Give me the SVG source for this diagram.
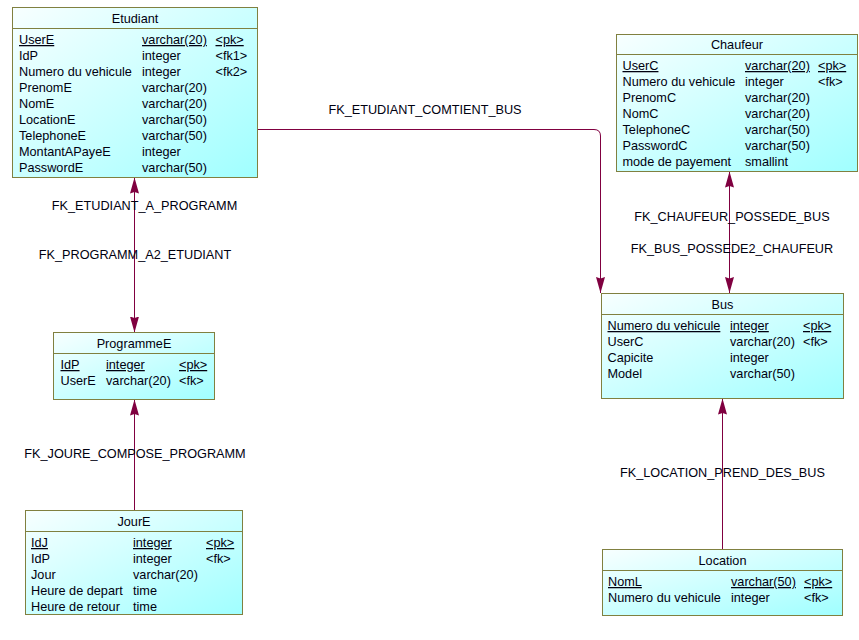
<svg xmlns="http://www.w3.org/2000/svg" width="859" height="640" viewBox="0 0 859 640">
<defs>
<linearGradient id="g" x1="0" y1="0" x2="1" y2="1">
<stop offset="0" stop-color="#f8ffff"/>
<stop offset="1" stop-color="#a0ffff"/>
</linearGradient>
<marker id="ah" viewBox="0 0 16 9" refX="16" refY="4.5" markerWidth="16" markerHeight="9" markerUnits="userSpaceOnUse" orient="auto-start-reverse">
<path d="M0,0 L16,4.5 L0,9 L1.5,4.5 Z" fill="#800040"/>
</marker>
<style>
.box{fill:url(#g);stroke:#808040;stroke-width:1}
.sep{stroke:#808040;stroke-width:1}
text{font-family:"Liberation Sans",Arial,sans-serif;font-size:12.7px;fill:#000010}
.t{text-anchor:middle}
.pk{text-decoration:underline}
.c{fill:none;stroke:#800040;stroke-width:1}
.lbl{text-anchor:middle}
</style>
</defs>
<rect width="859" height="640" fill="#ffffff"/>

<g id="connectors">
<path class="c" d="M134.5,177.5 V332.5" marker-start="url(#ah)" marker-end="url(#ah)"/>
<path class="c" d="M134.5,510 V399.5" marker-end="url(#ah)"/>
<path class="c" d="M257.5,129.5 H594 Q600.5,129.5 600.5,136 V293" marker-end="url(#ah)"/>
<path class="c" d="M729.5,171.5 V293" marker-start="url(#ah)" marker-end="url(#ah)"/>
<path class="c" d="M722.5,549 V398.5" marker-end="url(#ah)"/>
<text class="lbl" x="144.5" y="210">FK_ETUDIANT_A_PROGRAMM</text>
<text class="lbl" x="135" y="259">FK_PROGRAMM_A2_ETUDIANT</text>
<text class="lbl" x="135" y="458">FK_JOURE_COMPOSE_PROGRAMM</text>
<text class="lbl" x="425" y="114">FK_ETUDIANT_COMTIENT_BUS</text>
<text class="lbl" x="732" y="221">FK_CHAUFEUR_POSSEDE_BUS</text>
<text class="lbl" x="732" y="253">FK_BUS_POSSEDE2_CHAUFEUR</text>
<text class="lbl" x="722.5" y="477">FK_LOCATION_PREND_DES_BUS</text>
</g>

<g id="Etudiant">
<rect class="box" x="12.5" y="7.5" width="245" height="170"/>
<line class="sep" x1="12.5" y1="28.5" x2="257.5" y2="28.5"/>
<text class="t" x="135" y="23">Etudiant</text>
<text x="19" y="44" class="pk">UserE</text><text x="142" y="44" class="pk">varchar(20)</text><text x="215.5" y="44" class="pk">&lt;pk&gt;</text>
<text x="19" y="60">IdP</text><text x="142" y="60">integer</text><text x="215.5" y="60">&lt;fk1&gt;</text>
<text x="19" y="76">Numero du vehicule</text><text x="142" y="76">integer</text><text x="215.5" y="76">&lt;fk2&gt;</text>
<text x="19" y="92">PrenomE</text><text x="142" y="92">varchar(20)</text>
<text x="19" y="108">NomE</text><text x="142" y="108">varchar(20)</text>
<text x="19" y="124">LocationE</text><text x="142" y="124">varchar(50)</text>
<text x="19" y="140">TelephoneE</text><text x="142" y="140">varchar(50)</text>
<text x="19" y="156">MontantAPayeE</text><text x="142" y="156">integer</text>
<text x="19" y="172">PasswordE</text><text x="142" y="172">varchar(50)</text>
</g>

<g id="Chaufeur">
<rect class="box" x="616.5" y="34.5" width="241" height="137"/>
<line class="sep" x1="616.5" y1="54.5" x2="857.5" y2="54.5"/>
<text class="t" x="737" y="49">Chaufeur</text>
<text x="622.5" y="70" class="pk">UserC</text><text x="745" y="70" class="pk">varchar(20)</text><text x="818" y="70" class="pk">&lt;pk&gt;</text>
<text x="622.5" y="86">Numero du vehicule</text><text x="745" y="86">integer</text><text x="818" y="86">&lt;fk&gt;</text>
<text x="622.5" y="102">PrenomC</text><text x="745" y="102">varchar(20)</text>
<text x="622.5" y="118">NomC</text><text x="745" y="118">varchar(20)</text>
<text x="622.5" y="134">TelephoneC</text><text x="745" y="134">varchar(50)</text>
<text x="622.5" y="150">PasswordC</text><text x="745" y="150">varchar(50)</text>
<text x="622.5" y="166">mode de payement</text><text x="745" y="166">smallint</text>
</g>

<g id="Bus">
<rect class="box" x="601.5" y="293.5" width="242" height="105"/>
<line class="sep" x1="601.5" y1="314.5" x2="843.5" y2="314.5"/>
<text class="t" x="722.5" y="309">Bus</text>
<text x="607.5" y="330" class="pk">Numero du vehicule</text><text x="730" y="330" class="pk">integer</text><text x="803" y="330" class="pk">&lt;pk&gt;</text>
<text x="607.5" y="346">UserC</text><text x="730" y="346">varchar(20)</text><text x="803" y="346">&lt;fk&gt;</text>
<text x="607.5" y="362">Capicite</text><text x="730" y="362">integer</text>
<text x="607.5" y="378">Model</text><text x="730" y="378">varchar(50)</text>
</g>

<g id="ProgrammeE">
<rect class="box" x="53.5" y="332.5" width="161" height="67"/>
<line class="sep" x1="53.5" y1="353.5" x2="214.5" y2="353.5"/>
<text class="t" x="134" y="348">ProgrammeE</text>
<text x="60.5" y="369" class="pk">IdP</text><text x="106" y="369" class="pk">integer</text><text x="179" y="369" class="pk">&lt;pk&gt;</text>
<text x="60.5" y="385">UserE</text><text x="106" y="385">varchar(20)</text><text x="179" y="385">&lt;fk&gt;</text>
</g>

<g id="JourE">
<rect class="box" x="25.5" y="510.5" width="217" height="104"/>
<line class="sep" x1="25.5" y1="531.5" x2="242.5" y2="531.5"/>
<text class="t" x="134" y="526">JourE</text>
<text x="31" y="547" class="pk">IdJ</text><text x="133" y="547" class="pk">integer</text><text x="206" y="547" class="pk">&lt;pk&gt;</text>
<text x="31" y="563">IdP</text><text x="133" y="563">integer</text><text x="206" y="563">&lt;fk&gt;</text>
<text x="31" y="579">Jour</text><text x="133" y="579">varchar(20)</text>
<text x="31" y="595">Heure de depart</text><text x="133" y="595">time</text>
<text x="31" y="611">Heure de retour</text><text x="133" y="611">time</text>
</g>

<g id="Location">
<rect class="box" x="602.5" y="549.5" width="240" height="66"/>
<line class="sep" x1="602.5" y1="570.5" x2="842.5" y2="570.5"/>
<text class="t" x="722.5" y="565">Location</text>
<text x="608" y="586" class="pk">NomL</text><text x="731" y="586" class="pk">varchar(50)</text><text x="804" y="586" class="pk">&lt;pk&gt;</text>
<text x="608" y="602">Numero du vehicule</text><text x="731" y="602">integer</text><text x="804" y="602">&lt;fk&gt;</text>
</g>
</svg>
